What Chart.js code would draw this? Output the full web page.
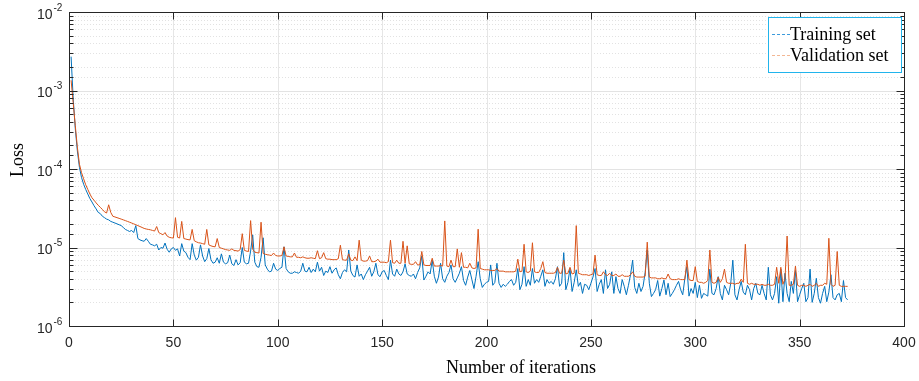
<!DOCTYPE html>
<html>
<head>
<meta charset="utf-8">
<script src="https://cdn.jsdelivr.net/npm/chart.js@4.4.1/dist/chart.umd.min.js"></script>
<style>
html, body { margin: 0; padding: 0; background: #fff; }
#wrap { width: 919px; height: 381px; }
</style>
</head>
<body>
<div id="wrap"><canvas id="lossChart"></canvas></div>
<script>
// loss values, in units of 1e-6, one per iteration (1..373)
var UNIT = 1e-6;
var trainLoss = [
    2700, 800, 330, 170, 105, 78, 64, 55, 48, 42,
    38, 34, 31, 28, 27, 25, 24, 23, 22.5, 21.5,
    21, 20.5, 20, 19.5, 19, 18, 17, 16.5, 16, 16.5,
    15.5, 19, 13, 12.5, 12.2, 12, 13, 12, 11, 10.8,
    10.5, 11, 9.3, 10, 9.8, 11.4, 9.5, 8.7, 9.6, 10,
    9.2, 9.6, 7.8, 11.2, 9, 8.6, 7.5, 7, 11.2, 8,
    6.9, 7.5, 10.8, 7.8, 6.6, 7.2, 9.7, 7, 6.3, 6.5,
    7.4, 6.3, 8.3, 6.5, 6.2, 6.4, 8, 6.2, 5.9, 7,
    6, 6.4, 10, 6.5, 6.2, 6.3, 9, 14.5, 6.5, 5.7,
    5.6, 7.5, 13.3, 6, 5.3, 4.9, 5, 6.3, 5.3, 5.1,
    5.4, 5.6, 10.2, 5.4, 4.9, 4.7, 4.7, 4.9, 4.8, 4.7,
    5.0, 6.3, 5.0, 4.9, 5.6, 4.8, 5.3, 4.9, 6.5, 5.0,
    5.6, 4.4, 5.0, 4.8, 5.7, 4.7, 5.2, 5.5, 4.5, 4.0,
    4.8, 5.2, 4.9, 9.3, 5.0, 4.4, 4.2, 6.0, 4.3, 4.6,
    3.9, 4.5, 5.0, 5.6, 4.3, 4.9, 6.3, 4.5, 4.25, 4.9,
    5.1, 4.4, 3.9, 6.9, 4.6, 4.3, 5.3, 4.6, 4.4, 4.9,
    6.2, 4.6, 4.4, 4.3, 4.6, 4.0, 4.8, 5.5, 7.8, 3.85,
    4.3, 4.9, 4.6, 6.9, 4.3, 3.5, 4.2, 6.3, 4.0, 3.6,
    4.3, 4.8, 6.0, 4.0, 3.6, 4.1, 4.7, 5.7, 3.8, 3.3,
    4.2, 5.1, 3.9, 3.0, 4.3, 6.6, 4.0, 3.1, 3.4, 3.6,
    3.7, 6.0, 3.3, 3.6, 6.3, 3.5, 3.1, 3.4, 3.2, 3.4,
    3.7, 3.9, 3.3, 3.6, 5.4, 2.9, 3.4, 5.7, 3.2, 3.9,
    3.3, 5.4, 3.5, 3.9, 3.6, 4.3, 5.2, 3.2, 3.9, 3.5,
    3.7, 3.4, 4.0, 5.7, 3.2, 3.5, 8.6, 2.9, 3.6, 5.4,
    2.75, 3.6, 5.2, 3.2, 3.6, 2.6, 3.4, 3.3, 2.9, 3.5,
    4.2, 5.4, 2.75, 3.4, 3.9, 2.6, 5.2, 3.0, 3.4, 4.9,
    2.6, 4.25, 3.0, 2.6, 3.9, 3.2, 2.5, 3.3, 4.5, 6.9,
    3.1, 2.6, 3.5, 2.75, 3.2, 4.8, 9.3, 3.5, 2.37, 2.6,
    2.9, 3.8, 2.4, 3.0, 3.85, 2.5, 3.5, 2.37, 2.6, 2.9,
    3.3, 3.7, 2.9, 2.5, 4.0, 5.7, 2.4, 3.0, 2.6, 3.6,
    2.3, 3.3, 2.25, 2.6, 2.5, 2.4, 5.3, 2.6, 2.5, 3.0,
    4.25, 2.6, 2.15, 3.3, 2.9, 2.5, 3.5, 6.9, 2.5, 2.15,
    2.9, 3.7, 2.7, 2.5, 3.3, 2.9, 2.15, 3.0, 3.5, 2.6,
    2.5, 3.3, 2.6, 2.15, 5.6, 2.5, 2.15, 2.6, 4.25, 1.95,
    5.3, 2.04, 4.7, 2.6, 2.04, 3.7, 2.6, 5.1, 2.04, 2.5,
    3.0, 3.5, 2.04, 2.3, 5.3, 2.0, 2.6, 4.05, 2.3, 1.95,
    2.6, 3.2, 2.04, 2.7, 4.5, 2.3, 2.15, 2.5, 2.6, 2.04,
    3.8, 2.3, 2.15
];
var validLoss = [
    1350, 700, 360, 190, 115, 90, 75, 63, 55, 48,
    43, 40, 37, 34.5, 32.5, 30.5, 28.5, 27.5, 35, 28,
    25, 24.5, 24, 23.5, 23, 22.5, 22, 21.5, 21, 20.5,
    20, 19.5, 19, 18.5, 18, 17.5, 17.2, 17, 16.8, 16.5,
    16.2, 18.5, 15.5, 15, 14.5, 15.5, 14, 13.5, 13.3, 13.2,
    24, 13.5, 13.2, 21.5, 13, 12.8, 12.6, 12.5, 17, 12.2,
    11.8, 11.5, 11.4, 11.2, 11, 17, 10.8, 10.5, 10.3, 10.2,
    13, 10, 9.8, 9.6, 9.4, 9.3, 9.2, 9.6, 9.2, 9.1,
    9, 9.4, 15, 9.2, 9, 8.9, 22, 9.5, 8.7, 8.6,
    8.5, 21, 8.4, 8.2, 8.1, 8, 7.9, 8.5, 7.9, 7.8,
    7.8, 7.9, 10.2, 7.8, 7.7, 7.6, 7.6, 8.5, 7.5, 7.5,
    7.4, 7.6, 7.4, 7.3, 7.3, 7.4, 7.3, 7.2, 9.1, 7.2,
    7.4, 8.6, 7.2, 7.1, 7.1, 7.0, 7.0, 7.0, 7.2, 10.7,
    7.0, 6.9, 6.9, 8.3, 6.9, 6.8, 7.6, 6.8, 12.4, 6.9,
    6.7, 6.7, 6.8, 7.8, 6.6, 6.6, 6.7, 7.1, 6.5, 6.5,
    6.5, 6.4, 6.6, 12.4, 6.4, 6.3, 6.9, 6.3, 6.3, 12.0,
    6.3, 10.5, 6.2, 6.1, 6.1, 6.6, 6.0, 6.0, 8.9, 6.0,
    5.9, 5.9, 5.9, 7.3, 5.8, 5.8, 5.8, 5.9, 5.8, 21.8,
    5.8, 5.7, 6.9, 5.7, 5.7, 9.6, 5.6, 8.6, 5.6, 5.6,
    5.5, 6.3, 5.5, 5.4, 5.5, 17.1, 5.4, 5.3, 5.2, 5.2,
    5.2, 5.1, 5.1, 5.1, 5.4, 5.0, 5.0, 5.0, 4.9, 4.9,
    4.9, 4.9, 4.9, 5.0, 7.1, 4.9, 5.0, 11.0, 4.9, 4.8,
    5.0, 11.5, 4.9, 4.8, 4.8, 5.4, 6.6, 4.8, 4.7, 4.7,
    4.7, 4.7, 4.8, 5.6, 4.7, 4.7, 6.9, 4.6, 4.7, 5.6,
    4.6, 4.7, 19.0, 4.7, 4.6, 4.5, 4.5, 4.5, 4.4, 4.5,
    4.6, 8.0, 4.5, 4.4, 4.4, 4.9, 4.5, 4.4, 4.7, 4.4,
    4.4, 4.6, 4.3, 4.3, 4.5, 4.3, 4.3, 4.3, 4.5, 4.9,
    4.3, 4.2, 4.2, 4.2, 4.2, 4.3, 11.7, 4.2, 4.1, 4.1,
    4.1, 4.0, 4.0, 4.1, 4.0, 4.0, 4.6, 4.0, 3.9, 3.9,
    3.9, 4.0, 3.9, 3.9, 3.9, 6.9, 3.9, 3.8, 3.8, 5.7,
    3.7, 3.6, 3.6, 3.5, 3.6, 3.8, 9.3, 3.6, 3.5, 3.6,
    4.2, 3.6, 4.0, 5.3, 3.6, 3.5, 3.5, 3.5, 3.4, 3.5,
    3.5, 3.95, 3.6, 11.0, 3.5, 3.4, 3.5, 3.4, 3.4, 3.4,
    3.3, 3.4, 3.3, 3.3, 3.4, 3.3, 3.3, 3.4, 5.6, 3.5,
    5.6, 3.4, 4.0, 14.0, 3.3, 3.3, 3.4, 5.8, 3.3, 3.2,
    3.3, 3.3, 3.2, 3.3, 3.4, 3.2, 3.3, 3.5, 3.2, 3.3,
    3.3, 3.5, 3.4, 13.1, 3.4, 3.2, 3.3, 8.9, 3.3, 3.2,
    3.2, 3.2, 3.2
];
var seriesNames = ['Training set', 'Validation set'];
var xTickStep = 50;
var xRange = [0, 400];
var yDecades = [-6, -5, -4, -3, -2];

var AXIS_COLOR = '#262626';
var SANS = '"Liberation Sans", Arial, sans-serif';
var SERIF = '"Liberation Serif", "Times New Roman", serif';

function toPoints(arr) {
    return arr.map(function(v, i) { return { x: i + 1, y: v * UNIT }; });
}

function isDecade(v) {
    var l = Math.log10(v);
    return Math.abs(l - Math.round(l)) < 1e-9;
}

function hLine(ctx, x1, x2, y) {
    ctx.beginPath(); ctx.moveTo(x1, y); ctx.lineTo(x2, y); ctx.stroke();
}
function vLine(ctx, x, y1, y2) {
    ctx.beginPath(); ctx.moveTo(x, y1); ctx.lineTo(x, y2); ctx.stroke();
}

// grid, box, inward ticks, 10^n labels, titles and legend like matlab
var matlabLook = {
    id: 'matlabLook',
    beforeDatasetsDraw: function(chart) {
        var ctx = chart.ctx, a = chart.chartArea;
        var xs = chart.scales.x, ys = chart.scales.y;
        ctx.save();
        ctx.lineWidth = 1;
        ys.ticks.forEach(function(t) {
            var py = Math.round(ys.getPixelForValue(t.value)) + 0.5;
            if (isDecade(t.value)) {
                ctx.strokeStyle = '#e3e3e3';
                ctx.setLineDash([]);
            } else {
                ctx.strokeStyle = '#e2e2e2';
                ctx.setLineDash([1, 2]);
            }
            hLine(ctx, a.left, a.right, py);
        });
        ctx.setLineDash([]);
        ctx.strokeStyle = '#e6e6e6';
        xs.ticks.forEach(function(t) {
            var px = Math.round(xs.getPixelForValue(t.value)) + 0.5;
            vLine(ctx, px, a.top, a.bottom);
        });
        ctx.restore();
    },
    afterDraw: function(chart) {
        var ctx = chart.ctx, a = chart.chartArea;
        var xs = chart.scales.x, ys = chart.scales.y;
        var L = Math.round(a.left) + 0.5, R = Math.round(a.right) + 0.5;
        var T = Math.round(a.top) + 0.5, B = Math.round(a.bottom) + 0.5;
        ctx.save();
        ctx.strokeStyle = AXIS_COLOR;
        ctx.lineWidth = 1;
        ctx.strokeRect(L, T, R - L, B - T);

        xs.ticks.forEach(function(t) {
            var px = Math.round(xs.getPixelForValue(t.value)) + 0.5;
            vLine(ctx, px, B, B - 7);
            vLine(ctx, px, T, T + 7);
        });
        ys.ticks.forEach(function(t) {
            var py = Math.round(ys.getPixelForValue(t.value)) + 0.5;
            var len = isDecade(t.value) ? 8 : 4;
            hLine(ctx, L, L + len, py);
            hLine(ctx, R, R - len, py);
        });

        // y tick labels 10^n
        ctx.fillStyle = AXIS_COLOR;
        ctx.textBaseline = 'middle';
        yDecades.forEach(function(e) {
            var py = ys.getPixelForValue(Math.pow(10, e));
            ctx.font = '14px ' + SANS;
            ctx.textAlign = 'right';
            ctx.fillText('10', L - 17, py + 3);
            ctx.font = '10px ' + SANS;
            ctx.textAlign = 'left';
            ctx.fillText(String(e), L - 16, py - 4);
        });

        // axis titles
        ctx.fillStyle = '#000';
        ctx.font = '18px ' + SERIF;
        ctx.textAlign = 'center';
        ctx.fillText('Number of iterations', 521, 368);
        ctx.save();
        ctx.translate(18, 160);
        ctx.rotate(-Math.PI / 2);
        ctx.fillText('Loss', 0, 0);
        ctx.restore();

        // legend
        var bx = 768.5, by = 17.5, bw = 133, bh = 55;
        ctx.fillStyle = '#fff';
        ctx.fillRect(bx, by, bw, bh);
        ctx.strokeStyle = '#21b4ec';
        ctx.strokeRect(bx, by, bw, bh);
        var sample = ['#3d9bdc', '#f3b793'];
        var rows = [34, 55];
        ctx.lineWidth = 1;
        ctx.setLineDash([3, 2]);
        rows.forEach(function(ry, i) {
            ctx.strokeStyle = sample[i];
            hLine(ctx, 772, 790, ry + 0.5);
        });
        ctx.setLineDash([]);
        ctx.fillStyle = '#000';
        ctx.textAlign = 'left';
        ctx.font = '18px ' + SERIF;
        rows.forEach(function(ry, i) {
            ctx.fillText(seriesNames[i], 790, ry + 1);
        });
        ctx.restore();
    }
};

var ctx = document.getElementById('lossChart').getContext('2d');
var lossChart = new Chart(ctx, {
    type: 'line',
    data: {
        datasets: [
            { label: seriesNames[0], data: toPoints(trainLoss), borderColor: '#0072BD', backgroundColor: '#0072BD', borderWidth: 1, pointRadius: 0, order: 2 },
            { label: seriesNames[1], data: toPoints(validLoss), borderColor: '#D95319', backgroundColor: '#D95319', borderWidth: 1, pointRadius: 0, order: 1 }
        ]
    },
    options: {
        responsive: true, maintainAspectRatio: false, animation: false,
        layout: { padding: { top: 12, right: 15 } },
        plugins: { legend: { display: false }, tooltip: { enabled: false } },
        scales: {
            x: {
                type: 'linear', min: xRange[0], max: xRange[1],
                grid: { display: false, drawTicks: false },
                border: { display: false },
                ticks: { stepSize: xTickStep, padding: 9, maxRotation: 0, color: AXIS_COLOR, font: { family: SANS, size: 14 } },
                afterFit: function(s) { s.height = 55; s.paddingLeft = 0; s.paddingRight = 0; }
            },
            y: {
                type: 'logarithmic', min: Math.pow(10, yDecades[0]), max: Math.pow(10, yDecades[yDecades.length - 1]),
                grid: { display: false, drawTicks: false },
                border: { display: false },
                ticks: { display: false },
                afterFit: function(s) { s.width = 69; s.paddingTop = 0; s.paddingBottom = 0; }
            }
        }
    },
    plugins: [matlabLook]
});
</script>
</body>
</html>
